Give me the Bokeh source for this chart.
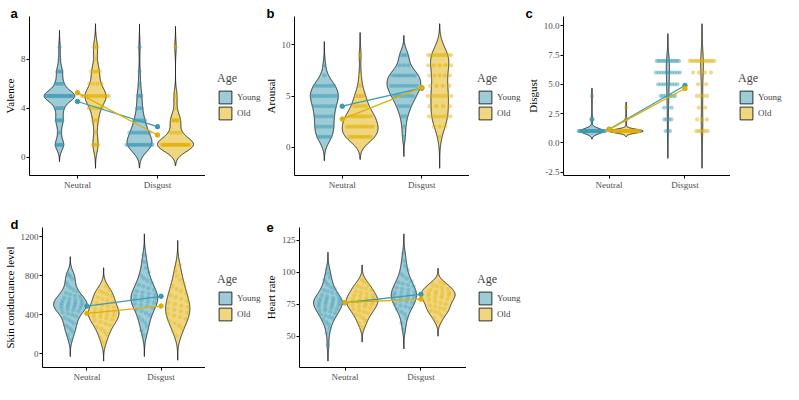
import numpy as np
from bokeh.plotting import figure
from bokeh.layouts import column, row
from bokeh.models import (Range1d, FixedTicker, Legend, LegendItem,
                          PrintfTickFormatter)
from bokeh.embed import file_html
from bokeh.resources import INLINE

# ---------------- data ----------------
conditions = ["Neutral", "Disgust"]
age_groups = ["Young", "Old"]
age_colors = ["#3B9AB2", "#E1AF00"]

# rating panels: number of participants per rating level
valence_levels = [1, 2, 3, 4, 5, 6, 7, 8, 9]
valence_young_neutral = [6, 2, 5, 5, 22, 5, 4, 1, 1]
valence_young_disgust = [18, 10, 6, 3, 3, 1, 1, 0, 1]
valence_old_neutral = [4, 1, 3, 5, 15, 4, 5, 1, 3]
valence_old_disgust = [24, 4, 6, 1, 2, 0, 0, 0, 1]
valence_mean_young = [4.55, 2.49]
valence_mean_old = [5.26, 1.81]

arousal_levels = [1, 2, 3, 4, 5, 6, 7, 8, 9]
arousal_young_neutral = [6, 6, 6, 7, 10, 8, 1, 1, 0]
arousal_young_disgust = [1, 1, 2, 4, 7, 10, 9, 3, 3]
arousal_old_neutral = [12, 12, 10, 5, 4, 1, 1, 0, 1]
arousal_old_disgust = [1, 3, 7, 4, 7, 4, 5, 5, 9]
arousal_mean_young = [4.0, 5.76]
arousal_mean_old = [2.74, 5.83]

disgust_levels = [1, 2, 3, 4, 5, 6, 7]
disgust_young_neutral = [36, 3, 0, 1, 0, 0, 0]
disgust_young_disgust = [3, 4, 3, 7, 8, 10, 13]
disgust_old_neutral = [38, 2, 1, 0, 0, 0, 0]
disgust_old_disgust = [6, 3, 2, 4, 2, 4, 13]
disgust_mean_young = [1.16, 4.9]
disgust_mean_old = [1.13, 4.64]

# physiological panels: individual values
scl_young_neutral = [144, 190, 225, 250, 270, 290, 310, 330, 350, 368, 385, 400, 412, 424,
                     435, 445, 454, 462, 470, 477, 484, 490, 496, 502, 508, 514, 520, 527,
                     534, 541, 549, 557, 566, 575, 585, 596, 608, 622, 638, 656, 676, 700,
                     730, 765, 790, 805, 822]
scl_young_disgust = [190, 240, 280, 315, 345, 372, 396, 418, 438, 456, 472, 487, 500, 512,
                     523, 534, 545, 555, 565, 575, 585, 595, 606, 617, 629, 642, 656, 671,
                     688, 706, 726, 748, 772, 800, 835, 880, 940, 1010]
scl_old_neutral = [116, 160, 200, 230, 255, 275, 293, 310, 325, 340, 352, 364, 375, 385,
                   394, 403, 412, 421, 430, 440, 450, 461, 473, 486, 500, 515, 530, 546,
                   562, 578, 594, 610, 626, 642, 658, 690]
scl_old_disgust = [185, 225, 260, 290, 315, 338, 358, 376, 392, 407, 421, 435, 449, 463,
                   478, 493, 509, 525, 542, 560, 579, 599, 620, 642, 666, 692, 720, 755,
                   800, 850, 910]
scl_mean_young = [489, 589]
scl_mean_old = [415, 489]

hr_young_neutral = [43, 52, 56, 59, 61, 63, 64, 65, 66, 67, 68, 69, 70, 70, 71, 72, 72, 73,
                    74, 74, 75, 75, 76, 76, 77, 77, 78, 78, 79, 79, 80, 80, 81, 82, 83, 84,
                    85, 86, 87, 88, 90, 92, 94, 96, 99, 103]
hr_young_disgust = [55, 60, 64, 67, 69, 71, 72, 73, 74, 75, 76, 77, 78, 79, 80, 80, 81, 82,
                    82, 83, 84, 84, 85, 86, 87, 88, 89, 90, 91, 92, 93, 95, 97, 99, 102,
                    105, 109, 115]
hr_old_neutral = [57, 60, 62, 64, 66, 67, 68, 69, 70, 71, 72, 73, 73, 74, 75, 75, 76, 77,
                  77, 78, 78, 79, 80, 80, 81, 82, 82, 83, 84, 85, 86, 87, 88, 89, 90, 92, 94]
hr_old_disgust = [61, 64, 66, 68, 69, 70, 71, 72, 73, 74, 75, 76, 77, 78, 79, 80, 80, 81,
                  82, 82, 83, 83, 84, 85, 85, 86, 87, 88, 89, 90, 91, 92]
hr_mean_young = [76.1, 82.7]
hr_mean_old = [76.3, 78.9]

# ---------------- helpers ----------------
SERIF = "Liberation Serif"
DODGE = 0.225
VIOLIN_HALF = 0.225
DOT_HALF = 0.18


def nrd0(x):
    x = np.asarray(x, float)
    hi = x.std(ddof=1)
    q75, q25 = np.percentile(x, [75, 25])
    lo = min(hi, (q75 - q25) / 1.34)
    if lo == 0:
        lo = hi or abs(x[0]) or 1.0
    return 0.9 * lo * len(x) ** -0.2


def kde(obs, bw, grid):
    z = (grid[:, None] - obs[None, :]) / bw
    return np.exp(-0.5 * z * z).sum(1) / (len(obs) * bw * np.sqrt(2 * np.pi))


def legend_figure(width, height, top, bottom, margin):
    q = figure(width=width, height=height, x_range=Range1d(0, 1), y_range=Range1d(0, 1),
               output_backend="svg", toolbar_location=None, min_border_left=0,
               min_border_right=0, min_border_top=top, min_border_bottom=bottom)
    q.axis.visible = False
    q.grid.visible = False
    q.outline_line_color = None
    rs = []
    for gi in range(2):
        rs.append(q.patch([-5, -4, -4], [-5, -5, -4], fill_color=age_colors[gi],
                          fill_alpha=0.5, line_color="black", line_width=0.8))
    legend = Legend(items=[LegendItem(label=age_groups[g], renderers=[rs[g]])
                           for g in range(2)],
                    title="Age", location="center_left")
    legend.title_text_font = SERIF
    legend.title_text_font_size = "12px"
    legend.title_text_font_style = "normal"
    legend.title_standoff = 3
    legend.label_text_font = SERIF
    legend.label_text_font_size = "9px"
    legend.label_standoff = 4
    legend.glyph_width = 16
    legend.glyph_height = 16
    legend.spacing = -3
    legend.padding = 0
    legend.margin = margin
    legend.border_line_color = None
    legend.background_fill_alpha = 0
    q.add_layout(legend)
    return q


def build_panel(letter, ylabel, samples, discrete, means, yticks, fmt,
                height, left, main_width, leg_margin, top, leg_top):
    info = []
    for gi in range(2):
        for ci in range(2):
            obs = np.asarray(samples[gi][ci], float)
            bw = nrd0(obs)
            grid = np.linspace(obs.min() - 3 * bw, obs.max() + 3 * bw, 512)
            info.append((gi, ci, obs, bw, grid, kde(obs, bw, grid)))
    dmax_all = max(t[5].max() for t in info)
    ylo = min(t[4][0] for t in info)
    yhi = max(t[4][-1] for t in info)
    span = yhi - ylo
    y0, y1 = ylo - 0.05 * span, yhi + 0.05 * span

    p = figure(width=main_width, height=height, x_range=Range1d(0.4, 2.6),
               y_range=Range1d(y0, y1), output_backend="svg",
               toolbar_location=None, min_border_left=left,
               min_border_right=0, min_border_top=top,
               min_border_bottom=0)
    p.xgrid.visible = False
    p.ygrid.visible = False
    p.outline_line_color = None

    # panel letter as a left-aligned title in the top-left corner
    p.title.text = letter
    p.title.align = "left"
    p.title.offset = -(left - 3)
    p.title.standoff = -8
    p.title.text_font = "Liberation Sans"
    p.title.text_font_style = "bold"
    p.title.text_font_size = "13px"
    p.title.text_color = "black"

    dots = []
    for gi, ci, obs, bw, grid, d in info:
        center = ci + 1 + (-DODGE if gi == 0 else DODGE)
        hw = VIOLIN_HALF * d / dmax_all
        xs = np.concatenate([center - hw, (center + hw)[::-1]])
        ys = np.concatenate([grid, grid[::-1]])
        p.patch(xs, ys, fill_color=age_colors[gi], fill_alpha=0.5,
                line_color="black", line_width=0.8)
        dmax_g = d.max()
        px, py = [], []
        if discrete:
            levels, counts = np.unique(obs, return_counts=True)
            for lv, c in zip(levels, counts):
                w = DOT_HALF * np.interp(lv, grid, d) / dmax_g
                for k in range(c):
                    u = (2 * k + 1) / c - 1
                    px.append(center + u * w)
                    py.append(lv)
        else:
            for i, v in enumerate(obs):
                u = 2 * ((i * 0.7548776662 + 0.31) % 1.0) - 1
                w = DOT_HALF * np.interp(v, grid, d) / dmax_g
                px.append(center + u * w)
                py.append(v)
        dots.append((gi, px, py))
    for gi, px, py in dots:
        p.scatter(px, py, size=4.3, fill_color=age_colors[gi],
                  fill_alpha=0.45 if discrete else 0.35, line_color=None)

    xpos = [1, 2]
    for gi in range(2):
        p.line(xpos, means[gi], line_color=age_colors[gi], line_width=1.3)
        p.scatter(xpos, means[gi], size=4.5, fill_color=age_colors[gi],
                  line_color=age_colors[gi])

    for ax in (p.xaxis[0], p.yaxis[0]):
        ax.axis_line_color = "black"
        ax.axis_line_width = 1
        ax.major_tick_line_color = "black"
        ax.major_tick_out = 3
        ax.major_tick_in = 0
        ax.minor_tick_line_color = None
        ax.major_label_text_font = SERIF
        ax.major_label_text_font_size = "9px"
        ax.major_label_text_color = "#4D4D4D"
        ax.major_label_standoff = 1
    p.xaxis.ticker = FixedTicker(ticks=xpos)
    p.xaxis.major_label_overrides = {1: conditions[0], 2: conditions[1]}
    p.yaxis.ticker = FixedTicker(ticks=yticks)
    if fmt:
        p.yaxis.formatter = PrintfTickFormatter(format=fmt)
    p.yaxis.axis_label = ylabel
    p.yaxis.axis_label_text_font = SERIF
    p.yaxis.axis_label_text_font_size = "11px"
    p.yaxis.axis_label_text_font_style = "normal"
    p.yaxis.axis_label_text_color = "black"
    p.yaxis.axis_label_standoff = 2

    return row(p, legend_figure(261 - main_width, height, leg_top, 17, leg_margin))


def rep(levels, counts):
    return np.repeat(np.asarray(levels, float), counts)


pa = build_panel("a", "Valence",
                 [[rep(valence_levels, valence_young_neutral), rep(valence_levels, valence_young_disgust)],
                  [rep(valence_levels, valence_old_neutral), rep(valence_levels, valence_old_disgust)]],
                 True, [valence_mean_young, valence_mean_old], [0, 4, 8], None,
                 192, 22, 205, 12, 10, 16)
pb = build_panel("b", "Arousal",
                 [[rep(arousal_levels, arousal_young_neutral), rep(arousal_levels, arousal_young_disgust)],
                  [rep(arousal_levels, arousal_old_neutral), rep(arousal_levels, arousal_old_disgust)]],
                 True, [arousal_mean_young, arousal_mean_old], [0, 5, 10], None,
                 192, 31, 208, 8, 10, 16)
pc = build_panel("c", "Disgust",
                 [[rep(disgust_levels, disgust_young_neutral), rep(disgust_levels, disgust_young_disgust)],
                  [rep(disgust_levels, disgust_old_neutral), rep(disgust_levels, disgust_old_disgust)]],
                 True, [disgust_mean_young, disgust_mean_old], [-2.5, 0, 2.5, 5, 7.5, 10], "%.1f",
                 192, 41, 208, 8, 10, 16)
pd = build_panel("d", "Skin conductance level",
                 [[scl_young_neutral, scl_young_disgust], [scl_old_neutral, scl_old_disgust]],
                 False, [scl_mean_young, scl_mean_old], [0, 400, 800, 1200], None,
                 192, 35, 205, 12, 14, 35)
pe = build_panel("e", "Heart rate",
                 [[hr_young_neutral, hr_young_disgust], [hr_old_neutral, hr_old_disgust]],
                 False, [hr_mean_young, hr_mean_old], [50, 75, 100, 125], None,
                 192, 36, 205, 11, 14, 35)

layout = column(row(pa, pb, pc), row(pd, pe))
open("out.html", "w").write(file_html(layout, INLINE))
